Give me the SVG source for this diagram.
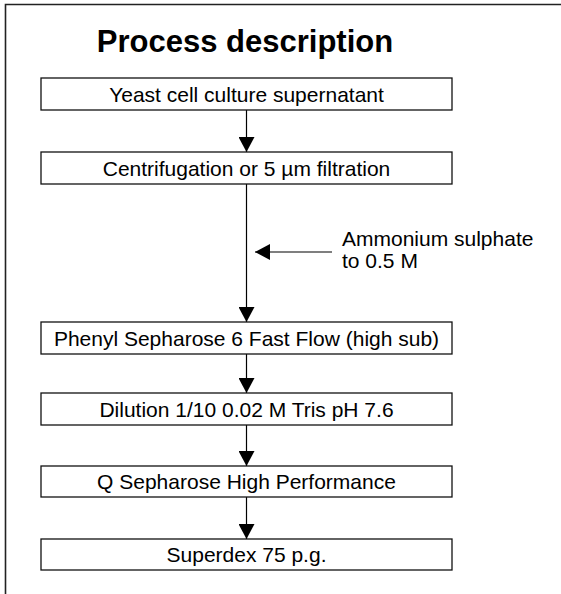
<svg xmlns="http://www.w3.org/2000/svg" width="561" height="594" viewBox="0 0 561 594">
<style>
.box rect{fill:#fff;stroke:#111;stroke-width:1.3}
.box text{font-family:"Liberation Sans",Arial,sans-serif;font-size:21px;fill:#000;text-anchor:middle}
.lbl{font-family:"Liberation Sans",Arial,sans-serif;font-size:21px;fill:#000}
.conn line{stroke:#000;stroke-width:1.2}
</style>
<defs>
<marker id="ah" markerWidth="15" markerHeight="16" viewBox="0 0 15 16" refX="15" refY="8" orient="auto" markerUnits="userSpaceOnUse">
<path d="M0,0 L15,8 L0,16 Z" fill="#000"/>
</marker>
</defs>
<rect x="0" y="0" width="561" height="594" fill="#fff"/>
<path d="M5.5,594 V4.5 H561" fill="none" stroke="#222" stroke-width="1.6"/>
<text x="245" y="52" font-family="Liberation Sans,Arial,sans-serif" font-size="31" font-weight="bold" text-anchor="middle">Process description</text>
<g class="conn">
<line x1="246.5" y1="110" x2="246.5" y2="152" marker-end="url(#ah)"/>
<line x1="246.5" y1="184" x2="246.5" y2="322" marker-end="url(#ah)"/>
<line x1="332" y1="252" x2="255" y2="252" marker-end="url(#ah)"/>
<line x1="246.5" y1="354" x2="246.5" y2="393" marker-end="url(#ah)"/>
<line x1="246.5" y1="425" x2="246.5" y2="466" marker-end="url(#ah)"/>
<line x1="246.5" y1="497" x2="246.5" y2="539" marker-end="url(#ah)"/>
</g>
<g id="n1" class="box"><rect x="41" y="78" width="411" height="32"/><text x="246.5" y="101.5">Yeast cell culture supernatant</text></g>
<g id="n2" class="box"><rect x="41" y="152" width="411" height="32"/><text x="246.5" y="175.5">Centrifugation or 5 µm filtration</text></g>
<g id="n3" class="box"><rect x="41" y="322" width="411" height="32"/><text x="246.5" y="345.5">Phenyl Sepharose 6 Fast Flow (high sub)</text></g>
<g id="n4" class="box"><rect x="41" y="393" width="411" height="32"/><text x="246.5" y="416.5">Dilution 1/10 0.02 M Tris pH 7.6</text></g>
<g id="n5" class="box"><rect x="41" y="466" width="411" height="31"/><text x="246.5" y="489">Q Sepharose High Performance</text></g>
<g id="n6" class="box"><rect x="41" y="539" width="411" height="31"/><text x="246.5" y="562">Superdex 75 p.g.</text></g>
<g id="lbl-ammonium"><text class="lbl" x="342" y="246">Ammonium sulphate</text><text class="lbl" x="342" y="268">to 0.5 M</text></g>
</svg>
